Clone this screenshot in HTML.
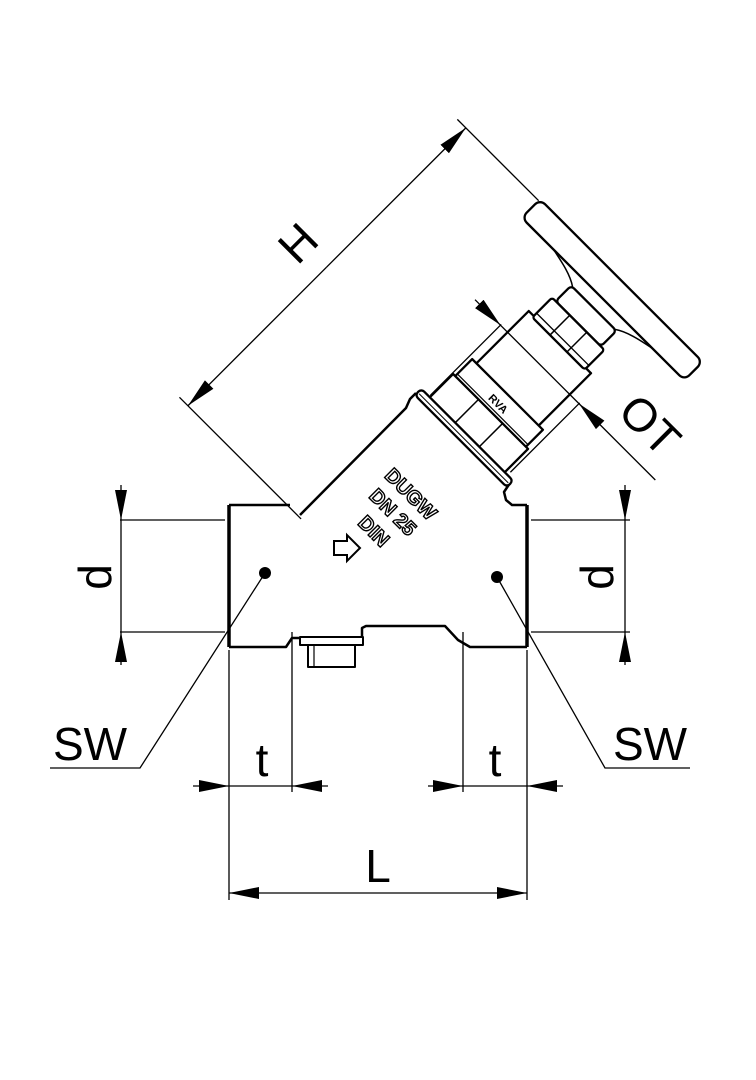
<!DOCTYPE html>
<html><head><meta charset="utf-8"><style>
html,body{margin:0;padding:0;background:#fff}
svg{display:block}
text{font-family:"Liberation Sans",sans-serif}
</style></head><body>
<svg width="756" height="1080" viewBox="0 0 756 1080" xmlns="http://www.w3.org/2000/svg">
<defs>
<marker id="a" viewBox="0 0 30 12" refX="30" refY="6" markerWidth="30" markerHeight="12" markerUnits="userSpaceOnUse" orient="auto"><path d="M0,0 L30,6 L0,12 z" fill="#000"/></marker>
</defs>
<rect width="756" height="1080" fill="#fff"/>

<!-- body -->
<g fill="none" stroke="#000" stroke-width="2.5" stroke-linejoin="round">
<path d="M229,505 L290,505"/>
<path d="M300,515 L406,408 L410,399 L416,393"/>
<path d="M510,483 L504,492 L506,500 L512,505 L527,505"/>
<path d="M229,505 L229,647" stroke-width="3.5"/>
<path d="M527,505 L527,647" stroke-width="3.5"/>
<path d="M229,647 L286,647 L292,638 L300,638"/>
<path d="M362,637 L362,628 L366,626 L445,626 L458,640 L470,647 L527,647"/>
<rect x="300" y="637" width="63" height="8" stroke-width="2"/>
<rect x="308" y="645" width="47" height="22" stroke-width="2"/>
<line x1="314" y1="645" x2="314" y2="667" stroke-width="1.2"/>
</g>

<!-- bonnet in rotated frame -->
<g transform="translate(463,439) rotate(-45)" fill="#fff" stroke="#000" stroke-width="2.3" stroke-linejoin="round">
<rect x="62" y="-44" width="75" height="88"/>
<rect x="38" y="-50" width="25" height="100"/>
<line x1="42" y1="-50" x2="42" y2="50" stroke-width="1.2"/>
<rect x="5" y="-53" width="34" height="106"/>
<line x1="5" y1="-17" x2="39" y2="-17" stroke-width="1.5"/>
<line x1="5" y1="17" x2="39" y2="17" stroke-width="1.5"/>
<rect x="-3" y="-65" width="9" height="130" rx="4"/>
<line x1="1" y1="-63" x2="1" y2="63" stroke-width="1"/>
<text x="50" y="0" font-size="11" font-weight="bold" fill="#000" stroke="none" text-anchor="middle" transform="rotate(90 50 0)" dy="4">RVA</text>
<rect x="163" y="-32" width="22" height="64" rx="4"/>
<path d="M185,-30 C192,-40 195,-55 198,-70 M185,30 C192,40 195,55 198,70" fill="none" stroke-width="1.5"/>
<rect x="135" y="-37" width="28" height="74" rx="3"/>
<line x1="141" y1="-37" x2="141" y2="37" stroke-width="1.3"/>
<line x1="135" y1="-12" x2="163" y2="-12" stroke-width="1.5"/>
<line x1="135" y1="12" x2="163" y2="12" stroke-width="1.5"/>
<rect x="198" y="-115" width="26" height="230" rx="7"/>
</g>

<!-- body text -->
<g font-weight="bold" font-size="20" fill="#fff" stroke="#000" stroke-width="1.4">
<text x="411" y="494" text-anchor="middle" transform="rotate(45 411 494)" dy="7">DUGW</text>
<text x="393" y="512" text-anchor="middle" transform="rotate(45 393 512)" dy="7">DN 25</text>
<text x="374" y="531" text-anchor="middle" transform="rotate(45 374 531)" dy="7">DIN</text>
</g>
<path d="M334,541 L347,541 L347,535 L360,548 L347,561 L347,555 L334,555 z" fill="none" stroke="#000" stroke-width="2"/>

<!-- dimension lines -->
<g stroke="#000" stroke-width="1.3" fill="none">
<g transform="translate(463,439) rotate(-45)">
<line x1="-171" y1="-230" x2="-171" y2="-58"/>
<line x1="222" y1="-230" x2="222" y2="-115"/>
<line x1="25" y1="-218" x2="-171" y2="-218" marker-end="url(#a)"/>
<line x1="25" y1="-218" x2="222" y2="-218" marker-end="url(#a)"/>
<line x1="8" y1="-54" x2="108" y2="-54"/>
<line x1="10" y1="57" x2="108" y2="57"/>
<line x1="107" y1="-90" x2="107" y2="-54" marker-end="url(#a)"/>
<line x1="107" y1="165" x2="107" y2="57" marker-end="url(#a)"/>
<line x1="107" y1="-54" x2="107" y2="57"/>
</g>
<line x1="120" y1="520" x2="225" y2="520"/>
<line x1="120" y1="632" x2="225" y2="632"/>
<line x1="121" y1="485" x2="121" y2="520" marker-end="url(#a)"/>
<line x1="121" y1="665" x2="121" y2="632" marker-end="url(#a)"/>
<line x1="121" y1="520" x2="121" y2="632"/>
<line x1="531" y1="520" x2="630" y2="520"/>
<line x1="531" y1="632" x2="630" y2="632"/>
<line x1="625" y1="485" x2="625" y2="520" marker-end="url(#a)"/>
<line x1="625" y1="665" x2="625" y2="632" marker-end="url(#a)"/>
<line x1="625" y1="520" x2="625" y2="632"/>
<line x1="229" y1="650" x2="229" y2="900"/>
<line x1="527" y1="650" x2="527" y2="900"/>
<line x1="292" y1="632" x2="292" y2="792"/>
<line x1="463" y1="632" x2="463" y2="792"/>
<line x1="193" y1="786" x2="229" y2="786" marker-end="url(#a)"/>
<line x1="328" y1="786" x2="292" y2="786" marker-end="url(#a)"/>
<line x1="229" y1="786" x2="292" y2="786"/>
<line x1="428" y1="786" x2="463" y2="786" marker-end="url(#a)"/>
<line x1="563" y1="786" x2="527" y2="786" marker-end="url(#a)"/>
<line x1="463" y1="786" x2="527" y2="786"/>
<line x1="378" y1="893" x2="229" y2="893" marker-end="url(#a)"/>
<line x1="378" y1="893" x2="527" y2="893" marker-end="url(#a)"/>
<polyline points="265,573 140,768 50,768"/>
<polyline points="497,577 605,768 690,768"/>
</g>
<circle cx="265" cy="573" r="6" fill="#000"/>
<circle cx="497" cy="577" r="6" fill="#000"/>

<g font-size="46" fill="#000">
<text x="298" y="243" text-anchor="middle" dy="16" transform="rotate(-45 298 243)">H</text>
<text x="650" y="425" text-anchor="middle" dy="16" transform="rotate(45 650 425)">OT</text>
<text x="95" y="577" text-anchor="middle" dy="16" transform="rotate(-90 95 577)">d</text>
<text x="597" y="577" text-anchor="middle" dy="16" transform="rotate(-90 597 577)">d</text>
<text x="90" y="760" text-anchor="middle">SW</text>
<text x="650" y="760" text-anchor="middle">SW</text>
<text x="262" y="776" text-anchor="middle">t</text>
<text x="495" y="776" text-anchor="middle">t</text>
<text x="378" y="882" text-anchor="middle">L</text>
</g>
</svg>
</body></html>
